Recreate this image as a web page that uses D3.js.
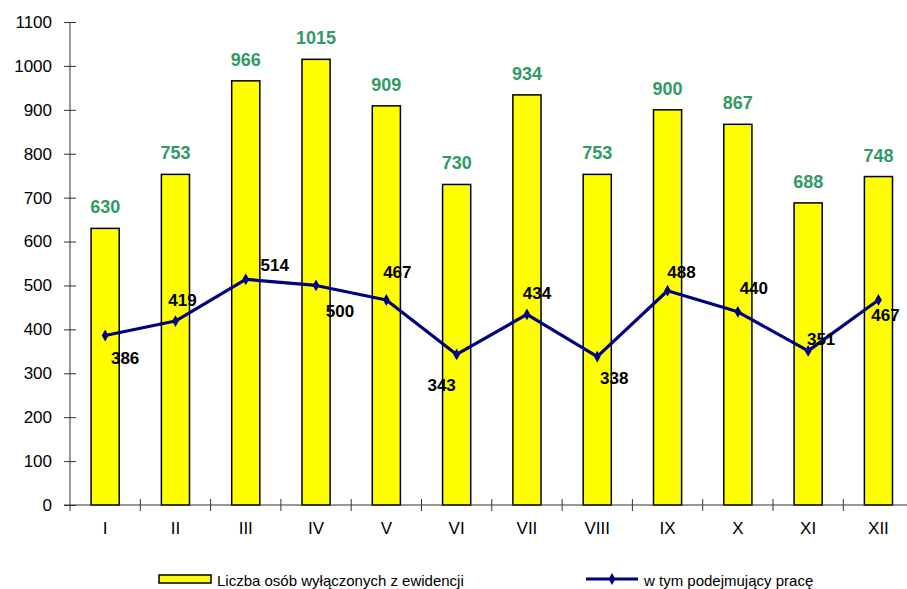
<!DOCTYPE html>
<html><head><meta charset="utf-8">
<script src="https://cdn.jsdelivr.net/npm/d3@7"></script>
<style>body{margin:0;background:#fff}svg{display:block}text{font-family:"Liberation Sans",Arial,sans-serif}</style>
</head><body>
<script>
const categories = ["I","II","III","IV","V","VI","VII","VIII","IX","X","XI","XII"];
const removed = [630,753,966,1015,909,730,934,753,900,867,688,748];
const employed = [386,419,514,500,467,343,434,338,488,440,351,467];
const yTicks = [0,100,200,300,400,500,600,700,800,900,1000,1100];
const seriesNames = ["Liczba osób wyłączonych z ewidencji","w tym podejmujący pracę"];
// label offsets for line values (style only)
const lineLabelOffsets = [[20,22],[7,-21],[29,-14],[24,26],[11,-28],[-15,31],[10,-21],[17,21],[14,-19],[16,-24],[13,-12],[7,15]];

const W=907,H=589;
const svg=d3.select("body").append("svg").attr("width",W).attr("height",H);
const x=d3.scaleBand().domain(categories).range([70,913.6]).paddingInner(0).paddingOuter(0);
const y=d3.scaleLinear().domain([0,1100]).range([505,22]);
const bw=x.bandwidth()*0.4;

// bars
svg.append("g").selectAll("rect").data(removed).join("rect")
 .attr("x",(d,i)=>x(categories[i])+x.bandwidth()/2-bw/2)
 .attr("y",d=>y(d)).attr("width",bw).attr("height",d=>y(0)-y(d))
 .attr("fill","#ffff00").attr("stroke","#000").attr("stroke-width",1.5);

// axes
const ya=svg.append("g").attr("transform","translate(70,0)")
 .call(d3.axisLeft(y).tickValues(yTicks).tickSize(6).tickPadding(10).tickFormat(d3.format("d")));
ya.selectAll(".tick line").attr("x2",6).attr("x1",-6).attr("stroke","#333");
ya.select(".domain").attr("d","M0,511V22").attr("stroke","#333");
ya.selectAll("text").attr("font-size",17).attr("fill","#000").attr("dx",-2);

const g=svg.append("g");
g.append("line").attr("x1",64).attr("x2",913.6).attr("y1",y(0)).attr("y2",y(0)).attr("stroke","#333");
g.selectAll("line.xt").data(categories).join("line").attr("class","xt")
 .attr("x1",d=>x(d)+x.bandwidth()).attr("x2",d=>x(d)+x.bandwidth())
 .attr("y1",y(0)-6).attr("y2",y(0)+6).attr("stroke","#333");
g.selectAll("text.xl").data(categories).join("text").attr("class","xl")
 .attr("x",d=>x(d)+x.bandwidth()/2).attr("y",y(0)+29).attr("text-anchor","middle")
 .attr("font-size",17).text(d=>d);

// bar labels
svg.append("g").selectAll("text").data(removed).join("text")
 .attr("x",(d,i)=>x(categories[i])+x.bandwidth()/2).attr("y",d=>y(d)-15)
 .attr("text-anchor","middle").attr("font-size",18).attr("font-weight","bold")
 .attr("fill","#339966").text(d=>d);

// line
const cx=i=>x(categories[i])+x.bandwidth()/2;
svg.append("path").datum(employed)
 .attr("d",d3.line().x((d,i)=>cx(i)).y(d=>y(d)))
 .attr("fill","none").attr("stroke","#000080").attr("stroke-width",3.2).attr("stroke-linejoin","round");
const dia=d3.symbol().type(d3.symbolDiamond).size(40);
svg.append("g").selectAll("path").data(employed).join("path")
 .attr("transform",(d,i)=>`translate(${cx(i)},${y(d)})`).attr("d",dia).attr("fill","#000080");
svg.append("g").selectAll("text").data(employed).join("text")
 .attr("x",(d,i)=>cx(i)+lineLabelOffsets[i][0]).attr("y",(d,i)=>y(d)+lineLabelOffsets[i][1]+6)
 .attr("text-anchor","middle").attr("font-size",17).attr("font-weight","bold").attr("fill","#000").text(d=>d);

// legend
const lg=svg.append("g");
lg.append("rect").attr("x",159).attr("y",575).attr("width",52).attr("height",8).attr("fill","#ffff00").attr("stroke","#000").attr("stroke-width",1.5);
lg.append("text").attr("x",217).attr("y",586).attr("font-size",15).text(seriesNames[0]);
lg.append("line").attr("x1",586).attr("x2",638).attr("y1",579).attr("y2",579).attr("stroke","#000080").attr("stroke-width",3);
lg.append("path").attr("transform","translate(612,579)").attr("d",dia).attr("fill","#000080");
lg.append("text").attr("x",644).attr("y",586).attr("font-size",15).text(seriesNames[1]);
</script>
</body></html>
